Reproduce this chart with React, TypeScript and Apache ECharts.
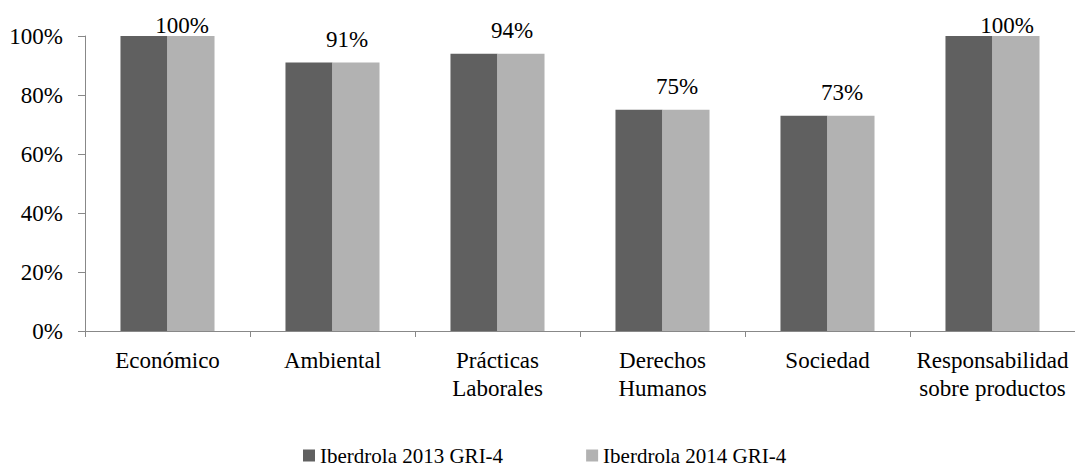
import React, { useEffect, useRef } from "react";
import * as echarts from "echarts";

const categories = [
  "Económico",
  "Ambiental",
  "Prácticas\nLaborales",
  "Derechos\nHumanos",
  "Sociedad",
  "Responsabilidad\nsobre productos",
];
const values2013 = [100, 91, 94, 75, 73, 100];
const values2014 = [100, 91, 94, 75, 73, 100];
const seriesNames = ["Iberdrola 2013 GRI-4", "Iberdrola 2014 GRI-4"];
const yTicks = [0, 20, 40, 60, 80, 100];

const FONT = "Liberation Serif";

export default function App() {
  const ref = useRef<HTMLDivElement>(null);
  useEffect(() => {
    if (!ref.current) return;
    const chart = echarts.init(ref.current, null, { renderer: "svg" });
    chart.setOption({
      animation: false,
      backgroundColor: "#ffffff",
      textStyle: { fontFamily: FONT, color: "#000" },
      grid: { left: 85, right: 0, top: 36, bottom: 141, containLabel: false },
      legend: {
        data: seriesNames,
        left: 298,
        top: 440,
        itemWidth: 12,
        itemHeight: 12,
        itemGap: 83,
        icon: "rect",
        textStyle: { fontFamily: FONT, fontSize: 21, color: "#000" },
      },
      xAxis: {
        type: "category",
        data: categories,
        axisLine: { show: true, lineStyle: { color: "#888888", width: 1 } },
        axisTick: { show: true, length: 6, lineStyle: { color: "#888888" } },
        axisLabel: {
          fontFamily: FONT,
          fontSize: 23,
          color: "#000",
          lineHeight: 28,
          margin: 15,
          interval: 0,
        },
      },
      yAxis: {
        type: "value",
        min: yTicks[0],
        max: yTicks[yTicks.length - 1],
        interval: 20,
        axisLine: { show: true, lineStyle: { color: "#888888", width: 1 } },
        axisTick: { show: true, length: 7, lineStyle: { color: "#888888" } },
        splitLine: { show: false },
        axisLabel: {
          fontFamily: FONT,
          fontSize: 23,
          color: "#000",
          margin: 22,
          formatter: "{value}%",
        },
      },
      series: [
        {
          name: seriesNames[0],
          type: "bar",
          data: values2013,
          barGap: "0%",
          barCategoryGap: "43%",
          itemStyle: { color: "#606060" },
        },
        {
          name: seriesNames[1],
          type: "bar",
          data: values2014.map((v) => ({
            value: v,
            label: {
              show: true,
              position: "top",
              distance: v >= 100 ? -1 : 12,
              offset: [-9, 0],
              formatter: "{c}%",
              fontFamily: FONT,
              fontSize: 23,
              color: "#000",
            },
          })),
          barGap: "0%",
          barCategoryGap: "43%",
          itemStyle: { color: "#b2b2b2" },
        },
      ],
    });
    return () => chart.dispose();
  }, []);
  return (
    <div
      ref={ref}
      style={{ position: "fixed", left: 0, top: 0, width: 1075, height: 472 }}
    />
  );
}
